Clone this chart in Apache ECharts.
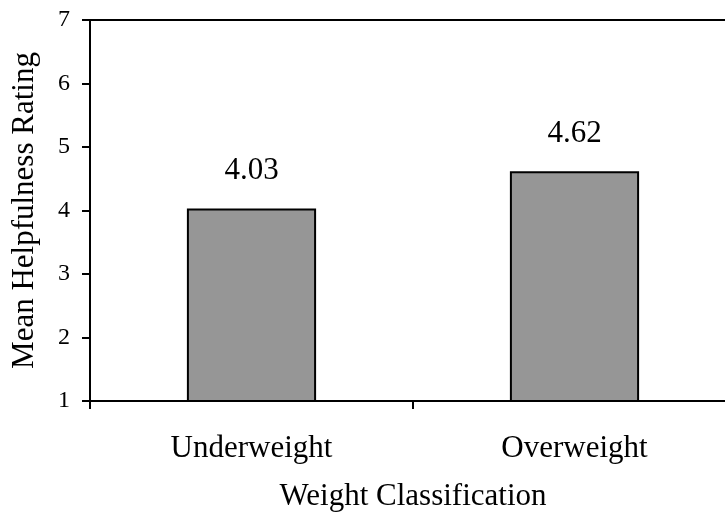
<!DOCTYPE html>
<html>
<head>
<meta charset="utf-8">
<script src="https://cdn.jsdelivr.net/npm/echarts@6/dist/echarts.min.js"></script>
<style>
html,body{margin:0;padding:0;background:#fff;overflow:hidden;}
#chart{width:725px;height:520px;}
</style>
</head>
<body>
<div id="chart"></div>
<script>
const categories = ['Underweight', 'Overweight'];
const meanRatings = [4.03, 4.62];
const yTicks = [1, 2, 3, 4, 5, 6, 7];
const xAxisTitle = 'Weight Classification';
const yAxisTitle = 'Mean Helpfulness Rating';

const FONT = '"Liberation Serif", "Times New Roman", serif';
const chart = echarts.init(document.getElementById('chart'));
chart.setOption({
  animation: false,
  backgroundColor: '#fff',
  grid: {
    left: 90, top: 20, width: 646, height: 381,
    outerBoundsMode: 'none',
    containLabel: false,
    show: true, borderColor: '#000', borderWidth: 2, backgroundColor: 'transparent'
  },
  xAxis: {
    type: 'category',
    data: categories,
    name: xAxisTitle,
    nameLocation: 'middle',
    nameGap: 80,
    nameTextStyle: { fontFamily: FONT, fontSize: 31, color: '#000' },
    axisLine: { lineStyle: { color: '#000', width: 2 } },
    axisTick: { show: true, length: 8, inside: false, lineStyle: { color: '#000', width: 2 } },
    axisLabel: { fontFamily: FONT, fontSize: 31, color: '#000', margin: 32 }
  },
  yAxis: {
    type: 'value',
    min: yTicks[0],
    max: yTicks[yTicks.length - 1],
    interval: 1,
    name: yAxisTitle,
    nameLocation: 'middle',
    nameGap: 50,
    nameTextStyle: { fontFamily: FONT, fontSize: 31, color: '#000' },
    axisLine: { show: true, lineStyle: { color: '#000', width: 2 } },
    axisTick: { show: true, length: 8, lineStyle: { color: '#000', width: 2 } },
    axisLabel: { fontFamily: FONT, fontSize: 24, color: '#000', margin: 20 },
    splitLine: { show: false }
  },
  series: [{
    type: 'bar',
    data: meanRatings,
    barWidth: '40%',
    itemStyle: { color: '#969696', borderColor: '#000', borderWidth: 2 },
    label: {
      show: true, position: 'top', distance: 22,
      fontFamily: FONT, fontSize: 31, color: '#000',
      formatter: p => p.value.toFixed(2)
    }
  }]
});
</script>
</body>
</html>
